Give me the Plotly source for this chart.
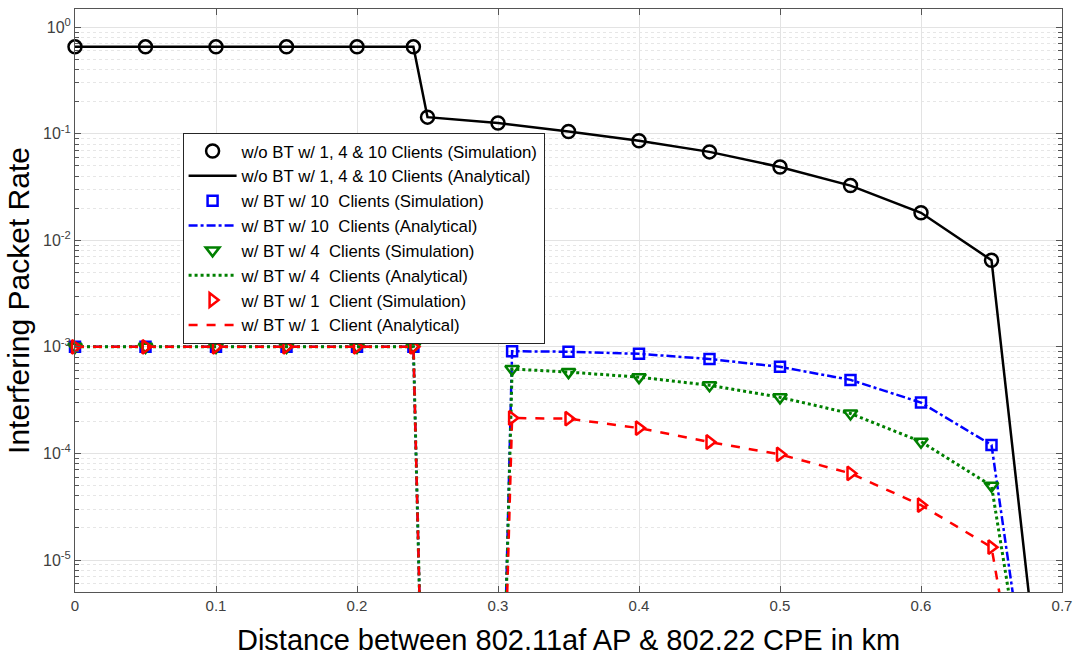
import plotly.graph_objects as go

# ---- data ----
x_sim_black = [0, 0.05, 0.10, 0.15, 0.20, 0.24, 0.25, 0.30, 0.35, 0.40, 0.45, 0.50, 0.55, 0.60, 0.65]
y_sim_black = [0.653, 0.653, 0.653, 0.653, 0.653, 0.653, 0.143, 0.126, 0.105, 0.086, 0.0675, 0.0487, 0.0326, 0.0181, 0.0065]
x_ana_black = x_sim_black + [0.70]
y_ana_black = y_sim_black + [8e-9]

x_sim_bt = [0, 0.05, 0.10, 0.15, 0.20, 0.24, 0.31, 0.35, 0.40, 0.45, 0.50, 0.55, 0.60, 0.65]
x_ana_bt = [0, 0.05, 0.10, 0.15, 0.20, 0.24, 0.25, 0.30, 0.31, 0.35, 0.40, 0.45, 0.50, 0.55, 0.60, 0.65, 0.70]

y_sim_10 = [1e-3, 1e-3, 1e-3, 1e-3, 1e-3, 1e-3, 9.1e-4, 9.0e-4, 8.6e-4, 7.7e-4, 6.5e-4, 4.9e-4, 3.0e-4, 1.2e-4]
y_ana_10 = [1e-3, 1e-3, 1e-3, 1e-3, 1e-3, 1e-3, 4e-9, 4e-9, 9.1e-4, 9.0e-4, 8.6e-4, 7.7e-4, 6.5e-4, 4.9e-4, 3.0e-4, 1.2e-4, 3e-9]

y_sim_4 = [1e-3, 1e-3, 1e-3, 1e-3, 1e-3, 1e-3, 6.2e-4, 5.8e-4, 5.2e-4, 4.36e-4, 3.36e-4, 2.37e-4, 1.29e-4, 4.97e-5]
y_ana_4 = [1e-3, 1e-3, 1e-3, 1e-3, 1e-3, 1e-3, 4e-9, 4e-9, 6.2e-4, 5.8e-4, 5.2e-4, 4.36e-4, 3.36e-4, 2.37e-4, 1.29e-4, 4.97e-5, 4e-9]

y_sim_1 = [1e-3, 1e-3, 1e-3, 1e-3, 1e-3, 1e-3, 2.15e-4, 2.12e-4, 1.73e-4, 1.28e-4, 9.8e-5, 6.5e-5, 3.27e-5, 1.32e-5]
y_ana_1 = [1e-3, 1e-3, 1e-3, 1e-3, 1e-3, 1e-3, 4e-9, 4e-9, 2.15e-4, 2.12e-4, 1.73e-4, 1.28e-4, 9.8e-5, 6.5e-5, 3.27e-5, 1.32e-5, 2e-9]

names = [
    "w/o BT w/ 1, 4 & 10 Clients (Simulation)",
    "w/o BT w/ 1, 4 & 10 Clients (Analytical)",
    "w/ BT w/ 10  Clients (Simulation)",
    "w/ BT w/ 10  Clients (Analytical)",
    "w/ BT w/ 4  Clients (Simulation)",
    "w/ BT w/ 4  Clients (Analytical)",
    "w/ BT w/ 1  Client (Simulation)",
    "w/ BT w/ 1  Client (Analytical)",
]

x_ticks = [0, 0.1, 0.2, 0.3, 0.4, 0.5, 0.6, 0.7]
x_ticktext = ["0", "0.1", "0.2", "0.3", "0.4", "0.5", "0.6", "0.7"]
y_ticks = [1e-5, 1e-4, 1e-3, 1e-2, 1e-1, 1]
y_ticktext = ["10<sup>-5</sup>", "10<sup>-4</sup>", "10<sup>-3</sup>", "10<sup>-2</sup>", "10<sup>-1</sup>", "10<sup>0</sup>"]
y_minor = [m * 10.0 ** e for e in range(-6, 1) for m in range(2, 10)]

fig = go.Figure()

def sim(x, y, name, color, symbol, size):
    fig.add_trace(go.Scatter(x=x, y=y, name=name, mode="markers",
                             marker=dict(symbol=symbol, size=size, color=color,
                                         line=dict(color=color, width=2.5)),
                             cliponaxis=False))

def ana(x, y, name, color, dash, width):
    fig.add_trace(go.Scatter(x=x, y=y, name=name, mode="lines",
                             line=dict(color=color, dash=dash, width=width)))

sim(x_sim_black, y_sim_black, names[0], "black", "circle-open", 13)
ana(x_ana_black, y_ana_black, names[1], "black", "solid", 2.5)
sim(x_sim_bt, y_sim_10, names[2], "#0000ff", "square-open", 10)
ana(x_ana_bt, y_ana_10, names[3], "#0000ff", "dashdot", 2.5)
sim(x_sim_bt, y_sim_4, names[4], "#008000", "triangle-down-open", 12)
ana(x_ana_bt, y_ana_4, names[5], "#008000", "dot", 3)
sim(x_sim_bt, y_sim_1, names[6], "#ff0000", "triangle-right-open", 12)
ana(x_ana_bt, y_ana_1, names[7], "#ff0000", "dash", 2.5)

fig.update_layout(
    width=1073, height=656,
    margin=dict(l=75, r=11, t=9, b=64, autoexpand=False),
    paper_bgcolor="white", plot_bgcolor="white",
    font=dict(family="Liberation Sans, Arial, sans-serif", color="#404040", size=14),
    legend=dict(x=0.109, y=0.788, xanchor="left", yanchor="top",
                bgcolor="white", bordercolor="#262626", borderwidth=1,
                font=dict(size=16.8, color="black"), itemwidth=48,
                traceorder="normal"),
    showlegend=True,
)

fig.update_xaxes(
    range=[0, 0.7], tickvals=x_ticks, ticktext=x_ticktext, automargin=False,
    showgrid=True, gridcolor="#e3e3e3", gridwidth=1,
    showline=True, linecolor="#555555", linewidth=1, mirror="ticks",
    ticks="inside", ticklen=6, tickcolor="#555555", zeroline=False,
    tickfont=dict(size=15, color="#404040"),
    title=dict(text="Distance between 802.11af AP & 802.22 CPE in km",
               font=dict(size=29, color="black"), standoff=18),
)
fig.update_yaxes(
    type="log", range=[-5.3, 0.17], tickvals=y_ticks, ticktext=y_ticktext, automargin=False,
    showgrid=True, gridcolor="#e3e3e3", gridwidth=1,
    showline=True, linecolor="#555555", linewidth=1, mirror="ticks",
    ticks="inside", ticklen=6, tickcolor="#555555", zeroline=False,
    tickfont=dict(size=16, color="#404040"),
    minor=dict(tickvals=y_minor, showgrid=True, gridcolor="#e6e6e6", griddash="dot",
               gridwidth=1, ticks="inside", ticklen=4, tickcolor="#555555"),
    title=dict(text="Interfering Packet Rate", font=dict(size=30, color="black"), standoff=4),
)

fig.write_html("out.html")
